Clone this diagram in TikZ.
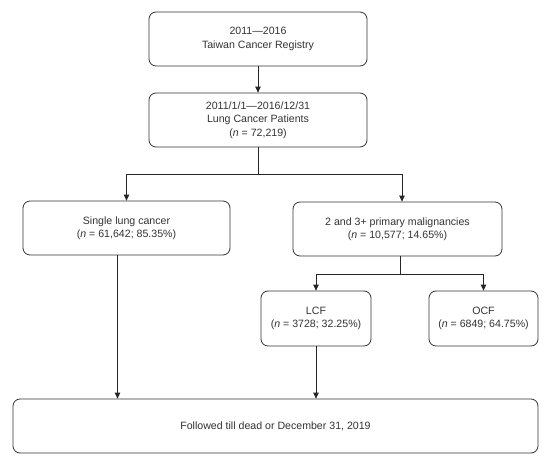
\documentclass[tikz,border=0pt]{standalone}
\usepackage{fontspec}
\setmainfont{Liberation Sans}
\usetikzlibrary{arrows.meta}
\tikzset{
  stagebox/.style={draw=black!80, line width=0.8pt, rounded corners=7pt, align=center,
    minimum height=54pt, inner sep=0pt,
    font=\fontsize{10.6pt}{13.3pt}\selectfont, text=black!80},
  flow/.style={draw=black!85, line width=0.8pt},
  >={Triangle[length=6pt,width=5.5pt]}
}
\begin{document}
\begin{tikzpicture}[x=1pt,y=-1pt]
\useasboundingbox[fill=white] (0,0) rectangle (550,466);

\node[stagebox, minimum width=218pt] (reg) at (258,39) {2011—2016\\Taiwan Cancer Registry};
\node[stagebox, minimum width=218pt] (lung) at (258,120) {2011/1/1—2016/12/31\\Lung Cancer Patients\\(\textit{n} = 72,219)};

\draw[flow,->] (reg) -- (lung);

\node[stagebox, minimum width=207pt] (single) at (126.5,228) {Single lung cancer\\(\textit{n} = 61,642; 85.35\%)};
\node[stagebox, minimum width=209pt] (multi) at (397.5,229) {2 and 3+ primary malignancies\\(\textit{n} = 10,577; 14.65\%)};

% split below the lung cancer patients
\coordinate (split) at (258,174);
\draw[flow] (lung) -- (split);
\draw[flow,->] (split) -| (single.north);
\draw[flow,->] (split) -| ([xshift=4.5pt]multi.north);

\node[stagebox, minimum width=110pt, minimum height=55pt] (lcf) at (316,318.5) {LCF\\(\textit{n} = 3728; 32.25\%)};
\node[stagebox, minimum width=109pt, minimum height=55pt] (ocf) at (483.5,318.5) {OCF\\(\textit{n} = 6849; 64.75\%)};

\coordinate (split2) at (400,274);
\draw[flow] ([xshift=2.5pt]multi.south) -- (split2);
\draw[flow,->] (split2) -| (lcf.north);
\draw[flow,->] (split2) -| (ocf.north);

\node[stagebox, minimum width=525pt] (follow) at (275.5,426) {Followed till dead or December 31, 2019};

\draw[flow,->] ([xshift=-9pt]single.south) -- ([xshift=-9pt]single.south |- follow.north);
\draw[flow,->] (lcf.south) -- (lcf.south |- follow.north);
\end{tikzpicture}
\end{document}
